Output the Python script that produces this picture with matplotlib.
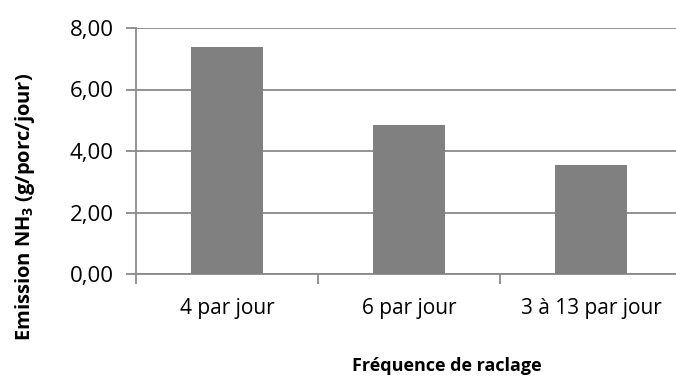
import matplotlib
matplotlib.use("Agg")
import matplotlib.pyplot as plt
from matplotlib.ticker import FuncFormatter

# NH3 emission by scraping frequency
categories = ["4 par jour", "6 par jour", "3 à 13 par jour"]
emissions = [7.38, 4.86, 3.54]
yticks = [0, 2, 4, 6, 8]

plt.rcParams['font.family'] = ['Open Sans', 'DejaVu Sans']
plt.rcParams['mathtext.fontset'] = 'custom'
plt.rcParams['mathtext.rm'] = 'Open Sans'
plt.rcParams['mathtext.bf'] = 'Open Sans:bold'

grey = "#8a8a8a"

fig = plt.figure(figsize=(6.76, 3.85), dpi=100)
ax = fig.add_axes([136 / 676, 1 - 274 / 385, 546 / 676, 246 / 385])

xpos = list(range(len(categories)))
ax.bar(xpos, emissions, width=0.4, color="#808080", zorder=3)

ax.set_xlim(-0.5, len(categories) - 0.5)
ax.set_ylim(0, 8)
ax.set_yticks(yticks)
ax.yaxis.set_major_formatter(FuncFormatter(lambda v, p: f"{v:.2f}".replace(".", ",")))
ax.yaxis.grid(True, color=grey, linewidth=1.3, zorder=0)

# category labels between boundary ticks
ax.set_xticks([x - 0.5 for x in xpos] + [xpos[-1] + 0.5])
ax.set_xticklabels([])
ax.set_xticks(xpos, minor=True)
ax.set_xticklabels(categories, minor=True)
ax.tick_params(axis='x', which='minor', length=0, pad=17, labelsize=15)
ax.tick_params(axis='x', which='major', length=7, width=1.3, color=grey)
ax.tick_params(axis='y', length=7, width=1.3, color=grey, pad=9, labelsize=16)

for side in ("top", "right"):
    ax.spines[side].set_visible(False)
for side in ("left", "bottom"):
    ax.spines[side].set_color(grey)
    ax.spines[side].set_linewidth(1.3)

fig.text(447 / 676, 1 - 366 / 385, "Fréquence de raclage", ha="center", va="center",
         fontsize=13, fontweight="bold")
fig.text(25 / 676, 1 - 207 / 385, r"Emission NH$_{\mathbf{3}}$ (g/porc/jour)", ha="center",
         va="center", rotation=90, fontsize=14.5, fontweight="bold")

fig.savefig("out.png", dpi=100)
